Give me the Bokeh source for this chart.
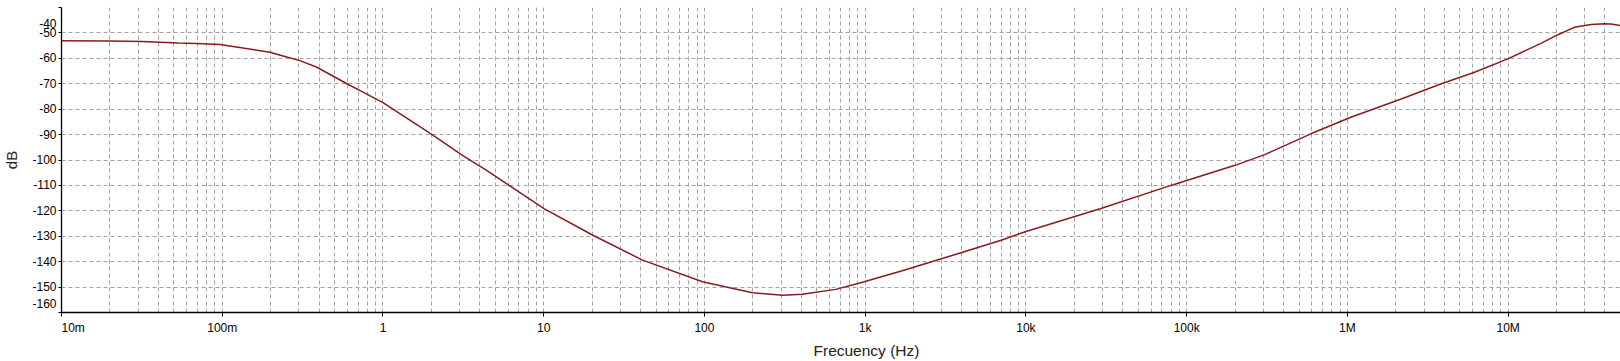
import numpy as np
from bokeh.plotting import figure
from bokeh.models import FixedTicker, Range1d, Title
from bokeh.embed import file_html
from bokeh.resources import INLINE

# ---- data ----
freq_hz = [0.01, 0.02, 0.0316, 0.0533, 0.0762, 0.0968, 0.198, 0.239, 0.304, 0.385,
           0.621, 0.716, 1.0, 2.0, 3.14, 4.39, 6.12, 10.1, 20.1, 41.2, 97.2, 199,
           305, 406, 655, 914, 1700, 3470, 7100, 9900, 29600, 80700, 200000, 306000,
           597000, 1.06e6, 2.16e6, 3.84e6, 6.18e6, 9.95e6, 1.60e7, 2.04e7, 2.58e7,
           3.28e7, 3.97e7, 4.37e7, 5.0e7]
gain_db = [-53.1, -53.2, -53.4, -54.0, -54.3, -54.6, -57.6, -59.1, -60.9, -63.4,
           -70.6, -72.6, -77.4, -89.8, -98.3, -104.0, -110.1, -119.2, -129.5, -139.4,
           -147.9, -152.2, -153.2, -152.8, -150.9, -148.5, -143.6, -137.6, -131.5,
           -128.2, -119.0, -109.9, -102.1, -97.9, -89.6, -83.1, -76.0, -70.0, -65.5,
           -60.2, -54.1, -50.7, -47.8, -46.7, -46.4, -46.5, -47.1]

x_major_ticks = [0.01, 0.1, 1, 10, 100, 1e3, 1e4, 1e5, 1e6, 1e7]
x_tick_labels = ["10m", "100m", "1", "10", "100", "1k", "10k", "100k", "1M", "10M"]
y_ticks = [-160, -150, -140, -130, -120, -110, -100, -90, -80, -70, -60, -50, -40]
y_tick_labels = [str(v) for v in y_ticks]
x_title = "Frecuency (Hz)"
y_title = "dB"

X_MIN, X_MAX = 0.01, 5e7
Y_MIN, Y_MAX = -160, -40

FONT = "Liberation Sans"
GRID = "#a3a3a3"
DASH = "4 3"

p = figure(width=1620, height=361, x_axis_type="log",
           x_range=Range1d(X_MIN, X_MAX), y_range=Range1d(Y_MIN, Y_MAX),
           output_backend="svg", toolbar_location=None,
           min_border_left=58, min_border_right=0, min_border_top=7,
           min_border_bottom=48)
p.outline_line_color = None
p.background_fill_color = "white"
p.border_fill_color = "white"

x_minor = [k * d for d in x_major_ticks + [1e8] for k in range(2, 10) if k * d < X_MAX]
p.xaxis.ticker = FixedTicker(ticks=x_major_ticks, minor_ticks=x_minor)
p.yaxis.ticker = FixedTicker(ticks=y_ticks)

# labels at the ends of the axes are kept inside the plot edges, as in the reference
x_over = {v: t for v, t in zip(x_major_ticks, x_tick_labels)}
x_over[x_major_ticks[0]] = "\u00a0" * 7 + x_tick_labels[0]
p.xaxis.major_label_overrides = x_over
y_over = {v: t for v, t in zip(y_ticks, y_tick_labels)}
y_over[y_ticks[0]] = y_tick_labels[0] + "\n"
y_over[y_ticks[-1]] = "\n" + y_tick_labels[-1]
p.yaxis.major_label_overrides = y_over

for ax in (p.xaxis, p.yaxis):
    ax.axis_line_color = "black"
    ax.axis_line_width = 1.3
    ax.major_tick_line_color = "black"
    ax.major_tick_in = 0
    ax.minor_tick_line_color = None
    ax.major_label_text_color = "black"
    ax.major_label_text_font = FONT
    ax.major_label_text_font_size = "12px"
p.xaxis.major_tick_out = 4
p.yaxis.major_tick_out = 3
p.xaxis.major_label_standoff = 4
p.yaxis.major_label_standoff = 2

p.yaxis.axis_label = y_title
p.yaxis.axis_label_text_font = FONT
p.yaxis.axis_label_text_font_size = "15px"
p.yaxis.axis_label_text_font_style = "normal"
p.yaxis.axis_label_text_color = "#222222"
p.yaxis.axis_label_standoff = 9

p.add_layout(Title(text=x_title, align="left", offset=752, standoff=5,
                   text_font=FONT, text_font_size="15.5px",
                   text_font_style="normal", text_color="#222222"), "below")

p.xgrid.grid_line_color = GRID
p.xgrid.grid_line_dash = DASH
p.xgrid.minor_grid_line_color = GRID
p.xgrid.minor_grid_line_dash = DASH
p.ygrid.grid_line_color = GRID
p.ygrid.grid_line_dash = DASH

p.line(freq_hz, gain_db, line_color="#8b1a1e", line_width=1.5)

open("out.html", "w").write(file_html(p, INLINE))
